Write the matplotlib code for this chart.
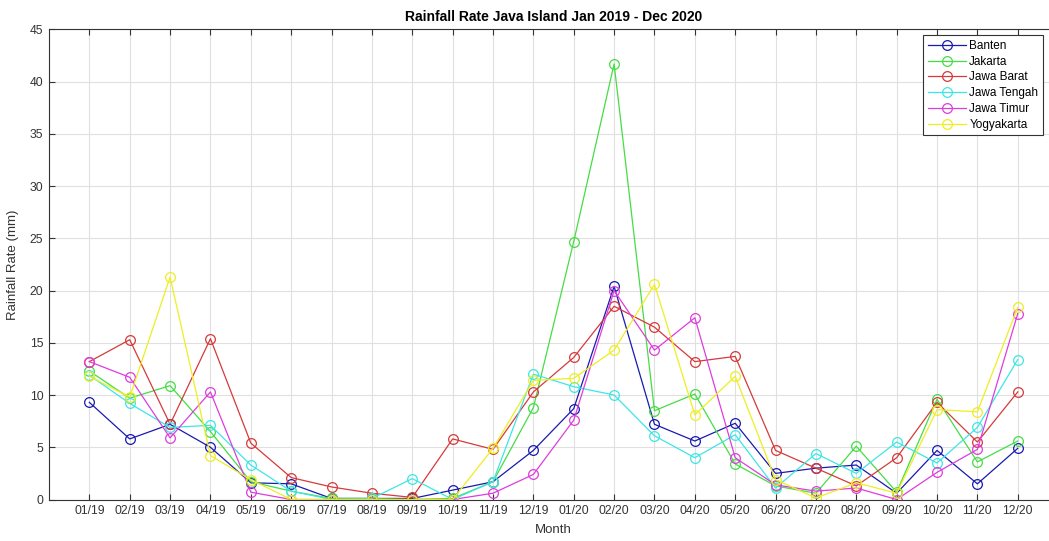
import matplotlib
matplotlib.use('Agg')
import matplotlib.pyplot as plt

plt.rcParams['font.family'] = ['Liberation Sans', 'DejaVu Sans']

months = ['01/19', '02/19', '03/19', '04/19', '05/19', '06/19', '07/19', '08/19',
          '09/19', '10/19', '11/19', '12/19', '01/20', '02/20', '03/20', '04/20',
          '05/20', '06/20', '07/20', '08/20', '09/20', '10/20', '11/20', '12/20']

banten = [9.3, 5.8, 7.2, 5.0, 1.6, 1.5, 0.1, 0.1, 0.1, 0.9, 1.7, 4.7,
          8.7, 20.4, 7.2, 5.6, 7.3, 2.5, 3.0, 3.3, 0.6, 4.7, 1.5, 4.9]
jakarta = [12.3, 9.7, 10.9, 6.5, 1.7, 0.8, 0.1, 0.1, 0.0, 0.1, 1.7, 8.8,
           24.7, 41.7, 8.5, 10.1, 3.4, 1.3, 0.6, 5.1, 0.7, 9.6, 3.6, 5.6]
jawa_barat = [13.2, 15.3, 7.2, 15.4, 5.4, 2.1, 1.2, 0.6, 0.2, 5.8, 4.8, 10.3,
              13.6, 18.5, 16.5, 13.2, 13.7, 4.7, 3.0, 1.3, 4.0, 9.3, 5.5, 10.3]
jawa_tengah = [11.9, 9.2, 6.9, 7.1, 3.3, 0.8, 0.0, 0.1, 2.0, 0.0, 1.7, 12.0,
               10.8, 10.0, 6.1, 4.0, 6.2, 1.1, 4.4, 2.5, 5.5, 3.5, 6.9, 13.4]
jawa_timur = [13.2, 11.7, 5.9, 10.3, 0.7, 0.0, 0.0, 0.0, 0.0, 0.0, 0.6, 2.4,
              7.6, 20.0, 14.3, 17.4, 4.0, 1.4, 0.8, 1.1, 0.0, 2.6, 4.8, 17.8]
yogyakarta = [11.8, 9.8, 21.3, 4.2, 1.9, 0.0, 0.0, 0.0, 0.0, 0.0, 4.9, 11.4,
              11.6, 14.3, 20.6, 8.1, 11.8, 1.9, 0.15, 1.6, 0.6, 8.6, 8.4, 18.4]

series = [
    ('Banten', banten, '#1a1ab0'),
    ('Jakarta', jakarta, '#44dd44'),
    ('Jawa Barat', jawa_barat, '#d63a3a'),
    ('Jawa Tengah', jawa_tengah, '#3de6e6'),
    ('Jawa Timur', jawa_timur, '#dd3ddd'),
    ('Yogyakarta', yogyakarta, '#eeee22'),
]

fig = plt.figure(figsize=(10.49, 5.41), dpi=100)
ax = fig.add_axes([0.0467, 0.0767, 0.962, 0.8688])

x = list(range(1, len(months) + 1))
for name, vals, col in series:
    ax.plot(x, vals, color=col, linewidth=0.9, marker='o', markersize=7,
            markerfacecolor='none', markeredgecolor=col, markeredgewidth=0.9,
            label=name)

ax.set_xlim(0, 25)
ax.set_ylim(0, 45)
ax.set_xticks(x)
ax.set_xticklabels(months)
ax.set_yticks(range(0, 46, 5))
ax.tick_params(direction='in', length=4, labelsize=8.7, colors='#333333',
               top=True, right=True, pad=4)
ax.grid(True, color='#e0e0e0', linewidth=0.8)
ax.set_axisbelow(True)
for s in ax.spines.values():
    s.set_color('#333333')
    s.set_linewidth(0.8)

ax.set_xlabel('Month', fontsize=9.5, color='#333333', labelpad=5)
ax.set_ylabel('Rainfall Rate (mm)', fontsize=9.5, color='#333333', labelpad=8)
ax.set_title('Rainfall Rate Java Island Jan 2019 - Dec 2020', fontsize=10,
             fontweight='bold', pad=6)

leg = ax.legend(loc='upper right', bbox_to_anchor=(0.9943, 0.935),
                bbox_transform=fig.transFigure, fontsize=8.5, fancybox=False,
                edgecolor='#333333', framealpha=1, handlelength=3.2,
                borderaxespad=0, labelspacing=0.32, handletextpad=0.3,
                borderpad=0.4)
leg.get_frame().set_linewidth(0.8)

fig.savefig('out.png', dpi=100)
